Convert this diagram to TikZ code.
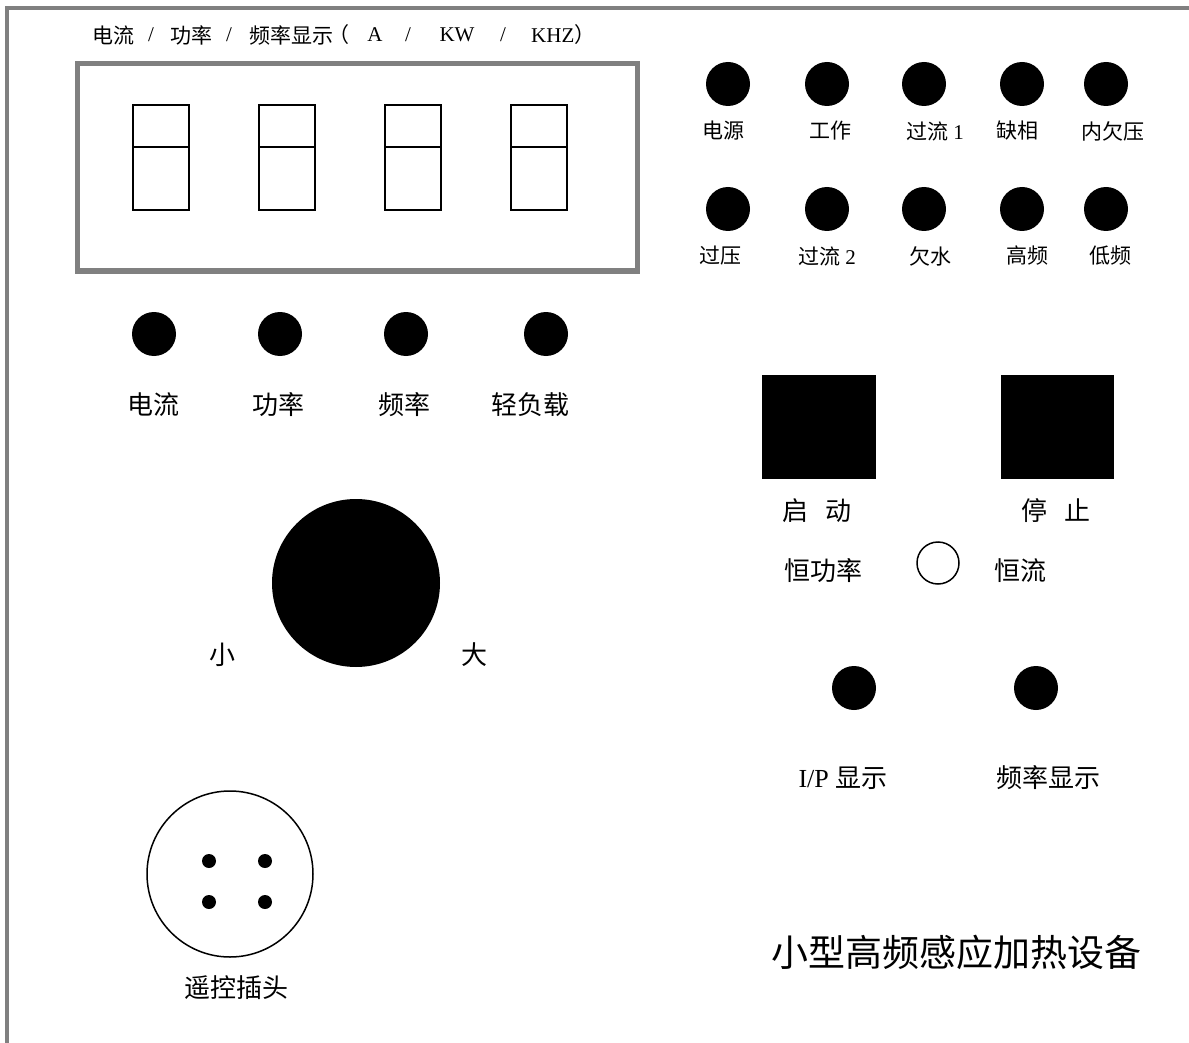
\documentclass[tikz,border=0pt]{standalone}
\usepackage{fontspec}
\setmainfont{Liberation Serif}
\newfontfamily\cjk{Noto Sans CJK SC}
\newcommand\zh[1]{{\cjk #1}}
\begin{document}
\begin{tikzpicture}[x=1pt,y=-1pt,
  frame/.style={draw=black!50, line width=3.5pt},
  disp/.style={draw=black!50, line width=5pt},
  seg/.style={draw=black, line width=1.8pt},
  led/.style={circle, fill=black, minimum size=44pt, inner sep=0pt},
  pin/.style={circle, fill=black, minimum size=14pt, inner sep=0pt},
  small/.style={font=\fontsize{21}{21}\selectfont, inner sep=0pt},
  captxt/.style={font=\fontsize{21}{21}\selectfont, inner sep=0pt},
  mid/.style={font=\fontsize{26}{26}\selectfont, inner sep=0pt},
  big/.style={font=\fontsize{37}{37}\selectfont, inner sep=0pt}]
\useasboundingbox (0,0) rectangle (1189,1043);
\fill[white] (0,0) rectangle (1189,1043);
\draw[frame] (7,1060) -- (7,8) -- (1200,8);
% display caption
\node[captxt] (c1) at (113,35) {\zh{电流}};
\node[captxt] (c2) at (151,35) {/};
\node[captxt] (c3) at (191,35) {\zh{功率}};
\node[captxt] (c4) at (229,35) {/};
\node[captxt] (c5) at (291,35) {\zh{频率显示}};
\node[captxt] (c6) at (339,35) {\zh{（}};
\node[captxt] (c7) at (375,35) {A};
\node[captxt] (c8) at (408,35) {/};
\node[captxt] (c9) at (457,35) {KW};
\node[captxt] (c10) at (503,35) {/};
\node[captxt, anchor=west] (c11) at (531,35) {KHZ\zh{）}};
% display
\draw[disp] (77,64) rectangle (637,271);
\foreach \x in {133,259,385,511}{
  \draw[seg] (\x,105) rectangle (\x+56,210);
  \draw[seg] (\x,147) -- (\x+56,147);
}
% top-right indicator rows
\foreach \x/\lx/\t [count=\i] in {728/723/\zh{电源}, 827/830/\zh{工作}, 924/935/{\zh{过流} 1}, 1022/1017/\zh{缺相}, 1106/1113/\zh{内欠压}}{
  \node[led] (ra\i) at (\x,84) {};
  \node[small] (la\i) at (\lx,131) {\t};
}
\foreach \x/\lx/\t [count=\i] in {728/720/\zh{过压}, 827/827/{\zh{过流} 2}, 924/930/\zh{欠水}, 1022/1027/\zh{高频}, 1106/1110/\zh{低频}}{
  \node[led] (rb\i) at (\x,209) {};
  \node[small] (lb\i) at (\lx,256) {\t};
}
% display selection indicators
\foreach \x/\lx/\t [count=\i] in {154/153/\zh{电流}, 280/278/\zh{功率}, 406/404/\zh{频率}, 546/530/\zh{轻负载}}{
  \node[led] (rc\i) at (\x,334) {};
  \node[mid] (lc\i) at (\lx,405) {\t};
}
% knob
\node[circle, fill=black, minimum size=168pt, inner sep=0pt] (knob) at (356,583) {};
\node[mid] (lo) at (222,655) {\zh{小}};
\node[mid] (hi) at (474,655) {\zh{大}};
% start / stop
\fill (762,375) rectangle (876,479);
\fill (1001,375) rectangle (1114,479);
\node[mid] (start) at (817,511) {\zh{启}\hspace{17pt}\zh{动}};
\node[mid] (stop) at (1056,511) {\zh{停}\hspace{17pt}\zh{止}};
% mode switch
\node[mid] (cp) at (823,571) {\zh{恒功率}};
\node[circle, draw=black, line width=1.5pt, minimum size=42pt, inner sep=0pt] (sw) at (938,563) {};
\node[mid] (cc) at (1020,571) {\zh{恒流}};
% display mode leds
\node[led] (ip) at (854,688) {};
\node[led] (fq) at (1036,688) {};
\node[mid] (ipl) at (843,778) {I/P \zh{显示}};
\node[mid] (fql) at (1048,778) {\zh{频率显示}};
% title
\node[big] (title) at (956,952) {\zh{小型高频感应加热设备}};
% remote plug
\node[circle, draw=black, line width=1.5pt, minimum size=166pt, inner sep=0pt] (plug) at (230,874) {};
\node[pin] (p1) at (209,861) {};
\node[pin] (p2) at (265,861) {};
\node[pin] (p3) at (209,902) {};
\node[pin] (p4) at (265,902) {};
\node[mid] (plugl) at (236,988) {\zh{遥控插头}};
\end{tikzpicture}
\end{document}
